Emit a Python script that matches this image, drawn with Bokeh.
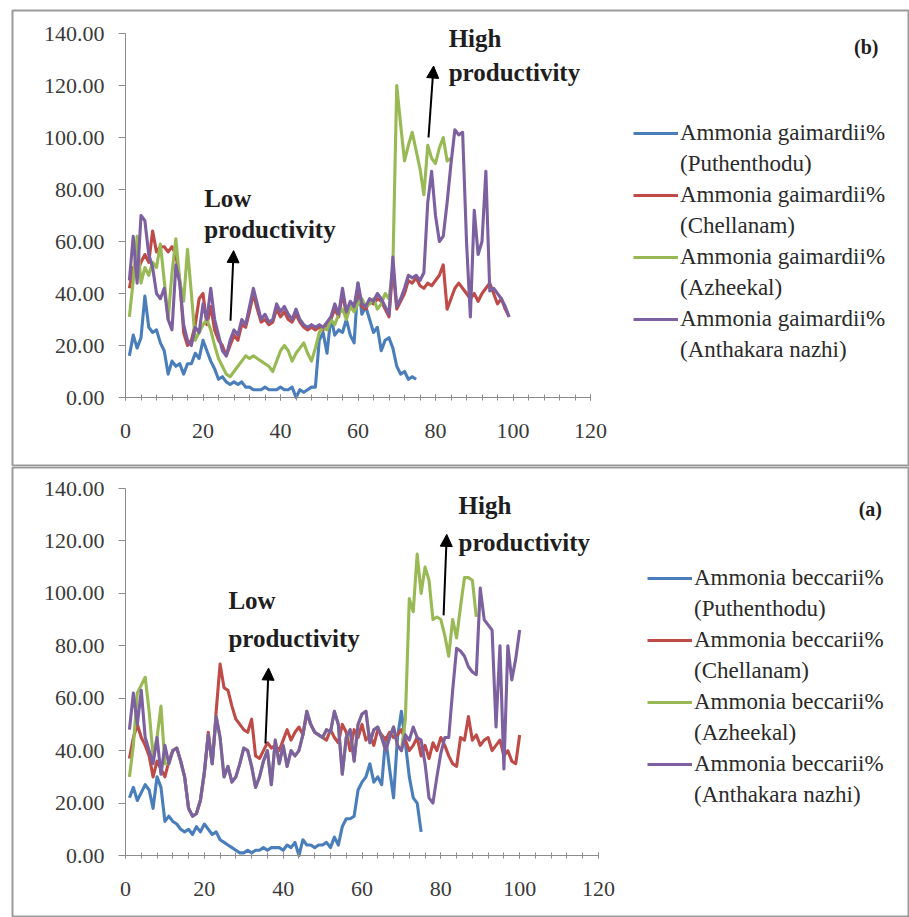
from bokeh.plotting import figure
from bokeh.models import (Range1d, SingleIntervalTicker, NumeralTickFormatter, Legend,
                          LegendItem, Label, Arrow, NormalHead)
from bokeh.layouts import column
from bokeh.embed import file_html
from bokeh.resources import INLINE

# ---------------- data: panel (b) Ammonia gaimardii % ----------------
b_names = ["Ammonia gaimardii%", "Ammonia gaimardii%", "Ammonia gaimardii%", "Ammonia gaimardii%"]
sites = ["(Puthenthodu)", "(Chellanam)", "(Azheekal)", "(Anthakara nazhi)"]

b_puthenthodu = [16, 24, 19, 23, 39, 27, 25, 26, 21, 18,
                 9, 14, 12, 13, 9, 13, 13, 17, 15, 22,
                 18, 14, 11, 7, 8, 6, 5, 6, 5, 6,
                 4, 4, 3, 3, 3, 4, 3, 3, 3, 4,
                 3, 3, 4, 0, 3, 2, 3, 4, 4, 22,
                 25, 17, 31, 24, 26, 25, 30, 24, 21, 44,
                 32, 35, 30, 25, 27, 18, 22, 23, 19, 12,
                 9, 10, 7, 8, 7]
b_chellanam = [42, 50, 48, 52, 55, 52, 64, 56, 58, 58,
               56, 58, 55, 45, 25, 20, 22, 28, 38, 40,
               28, 35, 26, 22, 20, 16, 20, 24, 22, 28,
               27, 33, 40, 34, 29, 30, 28, 29, 34, 31,
               33, 30, 29, 32, 29, 27, 26, 27, 26, 27,
               26, 28, 30, 34, 31, 40, 32, 35, 34, 42,
               35, 34, 37, 36, 38, 37, 34, 31, 50, 34,
               37, 40, 45, 44, 46, 43, 42, 44, 43, 45,
               47, 51, 34, 38, 42, 44, 42, 40, 38, 40,
               37, 40, 42, 44, 40, 36, 38, 34, 31]
b_azheekal = [31, 45, 62, 44, 50, 47, 52, 50, 59, 45,
              30, 48, 61, 45, 37, 57, 40, 22, 25, 28,
              30, 26, 20, 15, 12, 9, 8, 10, 12, 14,
              16, 15, 16, 15, 14, 13, 12, 10, 14, 18,
              20, 18, 14, 17, 19, 21, 17, 14, 19, 25,
              27, 26, 30, 28, 32, 34, 30, 35, 33, 36,
              38, 35, 36, 38, 34, 36, 40, 38, 50, 120,
              105, 91, 97, 102, 95, 88, 78, 97, 92, 90,
              96, 100, 91, 92]
b_anthakara = [45, 62, 44, 70, 68, 55, 50, 40, 38, 42,
               30, 26, 51, 44, 28, 22, 20, 27, 25, 36,
               30, 42, 30, 24, 18, 16, 22, 26, 24, 30,
               28, 35, 42, 36, 30, 32, 29, 30, 36, 33,
               35, 32, 30, 34, 30, 28, 27, 28, 27, 28,
               27, 29, 31, 36, 32, 42, 33, 37, 35, 44,
               36, 35, 38, 37, 40, 38, 35, 32, 54, 35,
               38, 42, 47, 46, 47, 45, 48, 75, 87, 70,
               60, 62, 75, 90, 103, 101, 102, 60, 31, 72,
               55, 60, 87, 41, 42, 40, 38, 35, 31]

# ---------------- data: panel (a) Ammonia beccarii % ----------------
a_names = ["Ammonia beccarii%", "Ammonia beccarii%", "Ammonia beccarii%", "Ammonia beccarii%"]

a_puthenthodu = [22, 26, 21, 24, 27, 25, 18, 30, 26, 13,
                 15, 13, 12, 10, 9, 10, 8, 11, 9, 12,
                 10, 8, 9, 6, 5, 4, 3, 2, 1, 1,
                 2, 1, 2, 2, 3, 2, 3, 3, 3, 2,
                 4, 3, 5, 0, 6, 4, 4, 3, 4, 4,
                 5, 3, 7, 4, 11, 14, 14, 15, 25, 28,
                 30, 35, 28, 30, 27, 45, 33, 22, 45, 55,
                 43, 30, 22, 20, 9]
a_chellanam = [37, 45, 50, 45, 42, 38, 30, 36, 33, 30,
               36, 40, 41, 36, 30, 18, 15, 16, 21, 31,
               47, 35, 55, 73, 64, 63, 57, 52, 50, 48,
               47, 52, 38, 37, 40, 43, 41, 42, 40, 44,
               48, 44, 47, 49, 46, 54, 50, 47, 46, 45,
               44, 48, 45, 43, 50, 47, 40, 48, 45, 50,
               44, 46, 42, 48, 46, 44, 47, 45, 46, 48,
               44, 40, 42, 45, 38, 42, 37, 43, 40, 45,
               42, 38, 35, 34, 45, 44, 53, 44, 46, 42,
               44, 45, 40, 42, 44, 38, 40, 36, 35, 46]
a_azheekal = [30, 42, 62, 65, 68, 55, 38, 45, 57, 35,
              35, 40, 41, 36, 30, 18, 15, 16, 21, 32,
              46, 35, 53, 45, 30, 34, 28, 30, 35, 41,
              40, 34, 26, 30, 36, 40, 27, 44, 35, 42,
              34, 40, 38, 40, 46, 55, 50, 47, 46, 45,
              48, 47, 55, 50, 31, 45, 48, 36, 50, 54,
              55, 43, 48, 49, 45, 40, 45, 49, 42, 40,
              52, 98, 93, 115, 100, 110, 105, 90, 91, 90,
              84, 76, 90, 83, 95, 106, 106, 105, 91]
a_anthakara = [48, 62, 50, 63, 45, 40, 35, 45, 31, 42,
               35, 40, 41, 36, 30, 18, 15, 16, 21, 32,
               46, 35, 53, 45, 30, 34, 28, 30, 35, 41,
               40, 34, 26, 30, 36, 40, 27, 44, 35, 42,
               34, 40, 38, 40, 46, 55, 50, 47, 46, 45,
               48, 47, 55, 50, 31, 45, 48, 36, 50, 54,
               55, 43, 48, 49, 45, 40, 45, 49, 42, 40,
               46, 44, 49, 45, 44, 35, 22, 20, 30, 39,
               45, 45, 63, 79, 78, 76, 72, 70, 69, 102,
               90, 88, 86, 49, 80, 33, 80, 67, 75, 86]

x_ticks_interval = 20
y_ticks_interval = 20

colors = ["#4A7EBB", "#BE4B48", "#98B954", "#7D60A0"]
FONT = "Liberation Serif"

W = 909


def make_panel(series, names, height, xr, yr, min_top, min_bottom, tag, tag_xy,
               low_xy, low_arrow, high_xy, high_arrow, legend_loc):
    p = figure(width=W, height=height, x_range=Range1d(*xr), y_range=Range1d(*yr),
               output_backend="svg", toolbar_location=None,
               min_border_left=12, min_border_right=0, min_border_top=min_top,
               min_border_bottom=min_bottom)
    p.xgrid.visible = False
    p.ygrid.visible = False
    p.outline_line_color = "#9a9a9a"
    p.outline_line_width = 2
    p.background_fill_color = "white"
    p.border_fill_color = "white"

    for ax in p.xaxis:
        ax.fixed_location = 0
        ax.bounds = (0, 120)
        ax.ticker = SingleIntervalTicker(interval=x_ticks_interval, num_minor_ticks=5)
        ax.major_tick_in = 3
        ax.major_tick_out = 3
        ax.minor_tick_in = 3
        ax.minor_tick_out = 3
        ax.minor_tick_line_color = "#8c8c8c"
        ax.major_label_standoff = 23
    for ax in p.yaxis:
        ax.fixed_location = 0
        ax.bounds = (0, 140)
        ax.ticker = SingleIntervalTicker(interval=y_ticks_interval, num_minor_ticks=0)
        ax.formatter = NumeralTickFormatter(format="0.00")
        ax.major_tick_in = 0
        ax.major_tick_out = 7
        ax.minor_tick_line_color = None
        ax.major_label_standoff = 14
    for ax in list(p.xaxis) + list(p.yaxis):
        ax.axis_line_color = "#8c8c8c"
        ax.major_tick_line_color = "#8c8c8c"
        ax.major_label_text_font = FONT
        ax.major_label_text_font_size = "22px"
        ax.major_label_text_color = "#3a3a3a"

    renderers = []
    for ys, c in zip(series, colors):
        xs = list(range(1, len(ys) + 1))
        r = p.line(xs, ys, line_color=c, line_width=3.1, line_join="round")
        renderers.append(r)

    dummy = p.line([], [], line_alpha=0)
    items = []
    for r, n, s in zip(renderers, names, sites):
        items.append(LegendItem(label=n, renderers=[r]))
        items.append(LegendItem(label=s, renderers=[dummy]))
    leg = Legend(items=items, location=legend_loc, glyph_width=45, glyph_height=24,
                 label_standoff=2, spacing=5, padding=0, margin=0,
                 border_line_color=None, background_fill_alpha=0,
                 label_text_font=FONT, label_text_font_size="23px",
                 label_text_color="#2a2a2a", label_height=24)
    p.add_layout(leg)

    def lbl(x, y, t, size="25px"):
        p.add_layout(Label(x=x, y=y, text=t, text_font=FONT, text_font_size=size,
                           text_font_style="bold", text_color="#1e1e1e",
                           text_baseline="middle", text_align="left"))

    lbl(low_xy[0], low_xy[1], "Low")
    lbl(low_xy[0], low_xy[2], "productivity")
    lbl(high_xy[0], high_xy[1], "High")
    lbl(high_xy[3], high_xy[2], "productivity")
    lbl(tag_xy[0], tag_xy[1], tag, size="20px")

    for a in (low_arrow, high_arrow):
        p.add_layout(Arrow(end=NormalHead(size=12, fill_color="black", line_color="black"),
                           x_start=a[0], y_start=a[1], x_end=a[2], y_end=a[3],
                           line_color="black", line_width=2))
    return p


top = make_panel([b_puthenthodu, b_chellanam, b_azheekal, b_anthakara], b_names, 466,
                 ((12 - 125) / 3.875, (W - 125) / 3.875),
                 ((397 - 465) / 2.6, (397 - 10) / 2.6), 10, 1,
                 "(b)", (188.0, 135.0),
                 (20.3, 76.5, 64.5), (27.1, 29.5, 27.9, 56.5),
                 (83.4, 138.0, 125.0, 83.4), (78.2, 100.0, 79.5, 127.5),
                 (621, 102))

bottom = make_panel([a_puthenthodu, a_chellanam, a_azheekal, a_anthakara], a_names, 451,
                    ((12 - 125) / 3.9417, (W - 125) / 3.9417),
                    ((855 - 917) / 2.6214, (855 - 467) / 2.6214), 1, 0,
                    "(a)", (186.0, 132.0),
                    (26.1, 97.3, 82.8), (35.5, 42.7, 36.3, 71.5),
                    (84.5, 133.5, 119.4, 84.5), (80.7, 91.6, 81.5, 122.5),
                    (635, 109))

layout = column(top, bottom, spacing=0)
open("out.html", "w").write(file_html(layout, INLINE))
